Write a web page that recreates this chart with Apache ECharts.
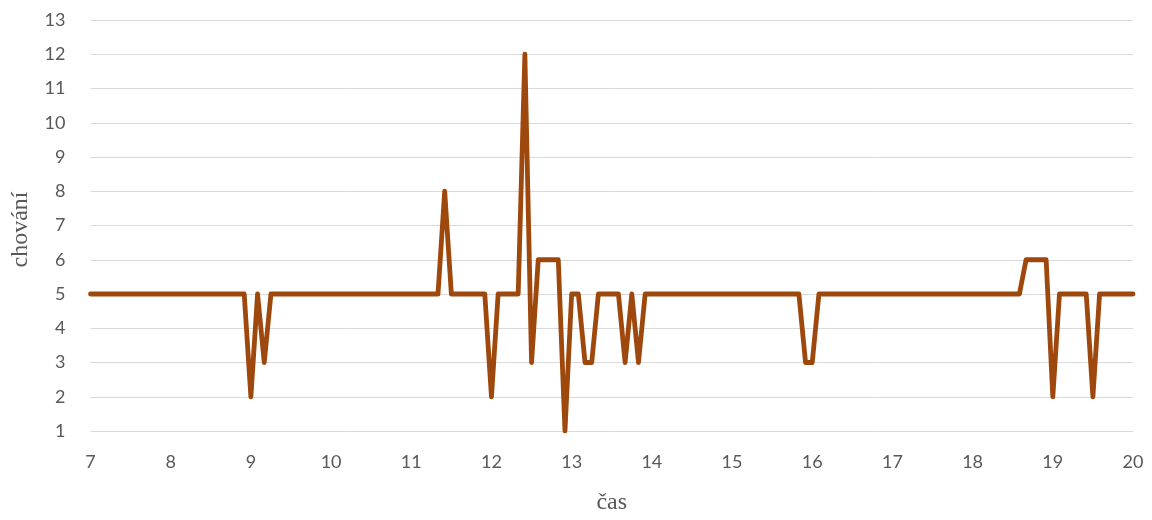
<!DOCTYPE html>
<html>
<head>
<meta charset="utf-8">
<script src="https://cdn.jsdelivr.net/npm/echarts@6/dist/echarts.min.js"></script>
<style>
html,body{margin:0;padding:0;background:#fff;}
#chart{width:1152px;height:520px;}
</style>
</head>
<body>
<div id="chart"></div>
<script>
// Behaviour ("chování") sampled every 5 minutes from 7:00 to 20:00
const startHour = 7;
const stepHours = 5 / 60;
const values = [
  5,5,5,5,5,5,5,5,5,5,5,5,5,5,5,5,5,5,5,5,5,5,5,5,   // 7:00 - 8:55
  2,5,3,                                               // 9:00 - 9:10
  5,5,5,5,5,5,5,5,5,5,5,5,5,5,5,5,5,5,5,5,5,5,5,5,5,5, // 9:15 - 11:20
  8,                                                   // 11:25
  5,5,5,5,5,5,                                         // 11:30 - 11:55
  2,                                                   // 12:00
  5,5,5,5,                                             // 12:05 - 12:20
  12,3,6,6,6,6,1,                                      // 12:25 - 12:55
  5,5,3,3,5,5,5,5,3,5,3,                               // 13:00 - 13:50
  5,5,5,5,5,5,5,5,5,5,5,5,5,5,5,5,5,5,5,5,5,5,5,5,     // 13:55 - 15:50
  3,3,                                                 // 15:55 - 16:00
  5,5,5,5,5,5,5,5,5,5,5,5,5,5,5,5,5,5,5,5,5,5,5,5,5,5,5,5,5,5,5, // 16:05 - 18:35
  6,6,6,6,                                             // 18:40 - 18:55
  2,5,5,5,5,5,2,                                       // 19:00 - 19:30
  5,5,5,5,5,5                                          // 19:35 - 20:00
];
const times = values.map((_, i) => startHour + i * stepHours);
const xTicks = [7,8,9,10,11,12,13,14,15,16,17,18,19,20];
const yTicks = [1,2,3,4,5,6,7,8,9,10,11,12,13];
const xName = 'čas';
const yName = 'chování';

const seriesData = times.map((t, i) => [t, values[i]]);

const chart = echarts.init(document.getElementById('chart'), null, {renderer: 'canvas'});
chart.setOption({
  animation: false,
  backgroundColor: '#ffffff',
  grid: {left: 90.5, right: 19, top: 20, bottom: 87, containLabel: false},
  xAxis: {
    type: 'value',
    min: xTicks[0],
    max: xTicks[xTicks.length - 1],
    interval: 1,
    name: xName,
    nameLocation: 'middle',
    nameGap: 60,
    nameTextStyle: {fontFamily: 'Liberation Serif', fontSize: 24, color: '#595959'},
    axisLine: {show: false},
    axisTick: {show: false},
    splitLine: {show: false},
    axisLabel: {fontFamily: 'Lato', fontSize: 18, color: '#595959', margin: 22}
  },
  yAxis: {
    type: 'value',
    min: yTicks[0],
    max: yTicks[yTicks.length - 1],
    interval: 1,
    name: yName,
    nameLocation: 'middle',
    nameGap: 58,
    nameRotate: 90,
    nameTextStyle: {fontFamily: 'Liberation Serif', fontSize: 24, color: '#595959', padding: [0, 8, 0, 0]},
    axisLine: {show: false},
    axisTick: {show: false},
    splitLine: {show: true, lineStyle: {color: '#d9d9d9', width: 1}},
    axisLabel: {fontFamily: 'Lato', fontSize: 18, color: '#595959', margin: 25}
  },
  series: [{
    type: 'line',
    data: seriesData,
    showSymbol: false,
    symbol: 'none',
    lineStyle: {color: '#9E480E', width: 4.8, cap: 'round', join: 'round'},
    itemStyle: {color: '#9E480E'}
  }]
});
</script>
</body>
</html>
